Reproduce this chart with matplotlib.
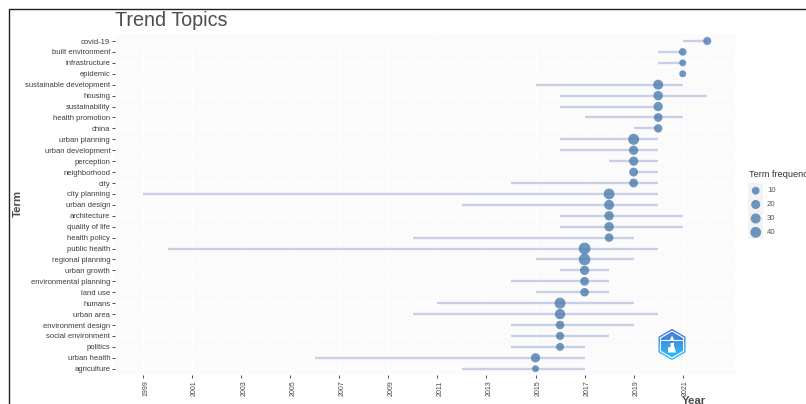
import numpy as np
import matplotlib
matplotlib.use("Agg")
import matplotlib.pyplot as plt
from matplotlib.patches import Polygon, Rectangle
from matplotlib.lines import Line2D
from matplotlib.transforms import ScaledTranslation

plt.rcParams['font.family'] = ['Liberation Sans', 'DejaVu Sans']

terms = ["covid-19", "built environment", "infrastructure", "epidemic", "sustainable development",
         "housing", "sustainability", "health promotion", "china", "urban planning",
         "urban development", "perception", "neighborhood", "city", "city planning",
         "urban design", "architecture", "quality of life", "health policy", "public health",
         "regional planning", "urban growth", "environmental planning", "land use", "humans",
         "urban area", "environment design", "social environment", "politics", "urban health",
         "agriculture"]
year_start = [2021, 2020, 2020, 2021, 2015, 2016, 2016, 2017, 2019, 2016, 2016, 2018, 2019, 2014, 1999,
              2012, 2016, 2016, 2010, 2000, 2015, 2016, 2014, 2015, 2011, 2010, 2014, 2014, 2014, 2006, 2012]
year_median = [2022, 2021, 2021, 2021, 2020, 2020, 2020, 2020, 2020, 2019, 2019, 2019, 2019, 2019, 2018,
               2018, 2018, 2018, 2018, 2017, 2017, 2017, 2017, 2017, 2016, 2016, 2016, 2016, 2016, 2015, 2015]
year_end = [2022, 2021, 2021, 2021, 2021, 2022, 2020, 2021, 2020, 2020, 2020, 2020, 2020, 2020, 2020,
            2020, 2021, 2021, 2019, 2020, 2019, 2018, 2018, 2018, 2019, 2020, 2019, 2018, 2017, 2017, 2017]
frequency = [12, 9, 5, 5, 30, 24, 22, 17, 14, 43, 22, 22, 18, 18, 40,
             30, 24, 24, 16, 55, 52, 22, 18, 16, 42, 34, 16, 13, 11, 22, 5]
legend_freq = [10, 20, 30, 40]
year_ticks = list(range(1999, 2022, 2))

W, H = 806, 404
fig = plt.figure(figsize=(W / 100, H / 100), dpi=100, facecolor='white')
L, R, T, B = 115, 735, 34, 375
ax = fig.add_axes([L / W, 1 - B / H, (R - L) / W, (B - T) / H], facecolor='#fbfbfc')

ppy = (682.7 - 143) / 22
ax.set_xlim(1999 + (L - 143) / ppy, 1999 + (R - 143) / ppy)
rows = np.arange(len(terms))
rowh = (368.7 - 41) / 30
ax.set_ylim((B - 41) / rowh, -(41 - T) / rowh)

def size_of(f):
    d_px = 4.8 + 0.95 * np.sqrt(np.asarray(f, float))
    d_pt = d_px * 0.72
    return d_pt ** 2

ax.set_axisbelow(True)
ax.set_xticks(year_ticks)
ax.set_xticks(range(1999, 2023), minor=True)
ax.set_yticks(rows)
ax.set_yticklabels(terms)
ax.grid(True, which='major', color='white', lw=0.9)
ax.grid(True, which='minor', axis='x', color='white', lw=0.5)
ax.hlines(rows, year_start, year_end, color='#c9d0e5', lw=1.7, zorder=2)
ax.scatter(year_median, rows, s=size_of(frequency), color='#4f7fb1', alpha=0.82, lw=0, zorder=3)

for s in ax.spines.values():
    s.set_visible(False)
ax.tick_params(axis='y', which='major', length=2, width=0.6, color='#333333', pad=1.5,
               labelsize=5.5, labelcolor='#3d3d3d')
ax.tick_params(axis='x', which='major', length=2, width=0.6, color='#333333', pad=2.0,
               labelsize=5.0, labelcolor='#444444', labelrotation=90)
ax.tick_params(axis='x', which='minor', length=0)
shift = ScaledTranslation(2.5 / 100, 0, fig.dpi_scale_trans)
for lab in ax.get_xticklabels():
    lab.set_transform(lab.get_transform() + shift)

fig.text(115 / W, 1 - 20.5 / H, "Trend Topics", fontsize=14.2, color='#4d4d4d', va='center', ha='left')
fig.text(17.5 / W, 1 - 203 / H, "Term", fontsize=8.2, fontweight='bold', color='#4d4d4d',
         rotation=90, va='center', ha='center')
fig.text(693.5 / W, 1 - 401 / H, "Year", fontsize=8.2, fontweight='bold', color='#4d4d4d',
         va='center', ha='center')

# figure frame
tr = fig.transFigure
fig.add_artist(Line2D([9 / W, 9 / W, 1], [0, 1 - 8.5 / H, 1 - 8.5 / H], transform=tr, color='#222222', lw=1.0))

# legend
fig.text(749 / W, 1 - 175 / H, "Term frequency", fontsize=6.6, color='#333333', va='center', ha='left')
lax = fig.add_axes([0, 0, 1, 1], facecolor='none')
lax.axis('off')
lax.add_patch(Rectangle((748, 183), 15, 56, facecolor='#f3f3f3', lw=0, zorder=1))
leg_y = [190.7, 204.5, 218.5, 232.3]
lax.scatter([755.7] * 4, leg_y, s=size_of(legend_freq), color='#4f7fb1', alpha=0.82, lw=0, zorder=2)
for f, y in zip(legend_freq, leg_y):
    lax.text(767, y, str(f), fontsize=5.6, color='#555555', va='center', ha='left')

# logo
cx, cy = 672, 344.5
ang = np.deg2rad(np.arange(30, 390, 60))
def hexa(r):
    return np.c_[cx + r * np.cos(ang), cy + r * np.sin(ang)]
grad = np.linspace(0, 1, 64)[:, None]
cmap = matplotlib.colors.LinearSegmentedColormap.from_list('g', ['#4a6fd0', '#2cc4fb'])
outer = Polygon(hexa(15.6), closed=True, transform=lax.transData, fc='none', ec='none')
lax.add_patch(outer)
im = lax.imshow(grad, extent=(cx - 16, cx + 16, cy + 16, cy - 16), cmap=cmap, aspect='auto', zorder=4)
im.set_clip_path(outer)
lax.set_xlim(0, W)
lax.set_ylim(H, 0)
lax.add_patch(Polygon(hexa(13.4), closed=True, fc='none', ec='white', lw=0.8, zorder=5))
lax.add_patch(Rectangle((cx - 11, cy - 4.5), 22, 1.3, fc='white', lw=0, zorder=5))
lax.add_patch(Polygon([(cx, cy - 9), (cx + 2.5, cy - 4), (cx - 2.5, cy - 4)], closed=True, fc='white', lw=0, zorder=5))
lax.add_patch(Polygon([(cx - 4, cy + 8), (cx + 4, cy + 8), (cx + 2, cy + 1), (cx + 2, cy - 2), (cx - 2, cy - 1), (cx - 1, cy + 2), (cx - 4, cy + 3)],
                      closed=True, fc='white', lw=0, zorder=5))

fig.savefig('out.png', dpi=100)
